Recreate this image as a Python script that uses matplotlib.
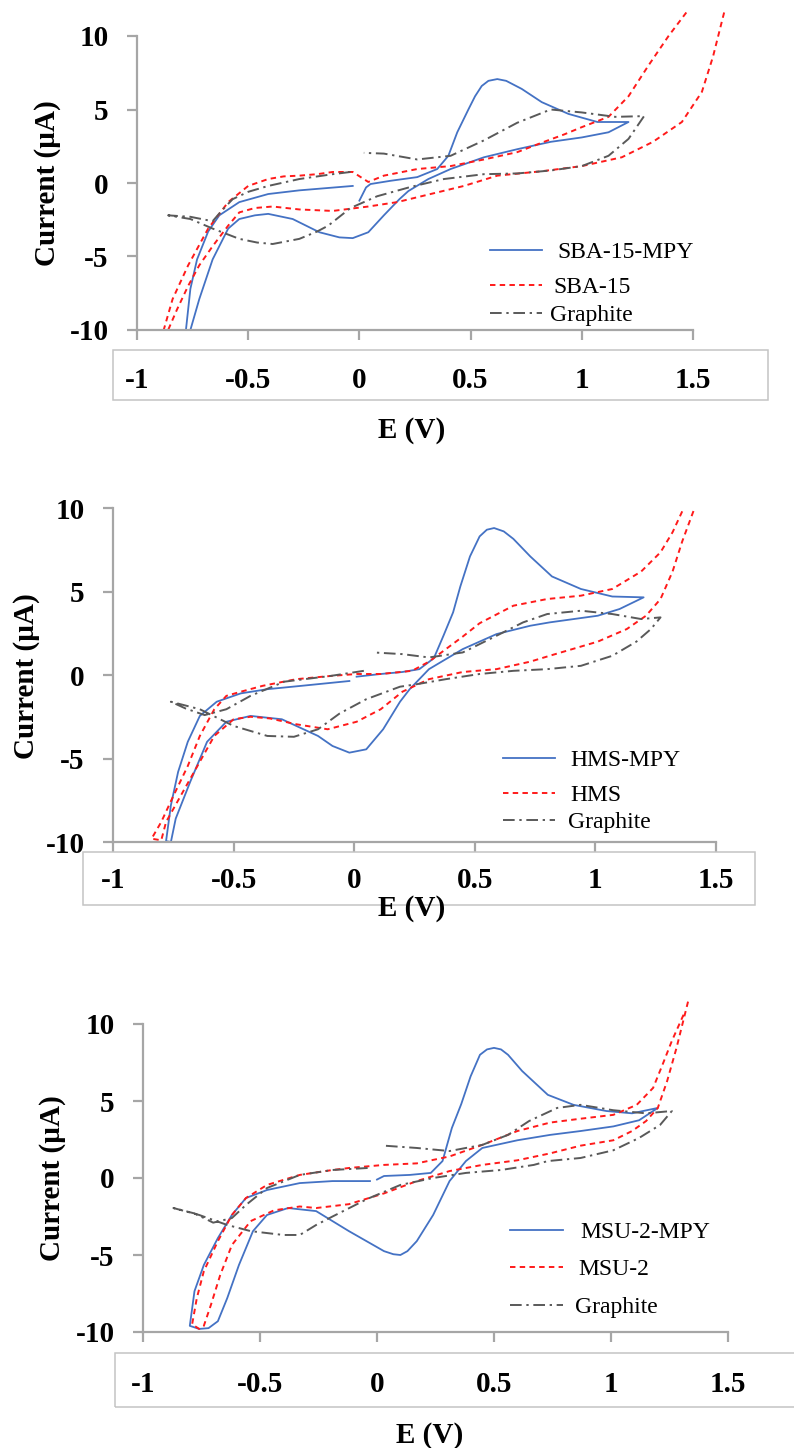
import matplotlib
matplotlib.use("Agg")
import matplotlib.pyplot as plt
from matplotlib.patches import Rectangle
from matplotlib.lines import Line2D
from matplotlib.transforms import blended_transform_factory

plt.rcParams['font.family'] = ['Liberation Serif', 'DejaVu Serif']
plt.rcParams['axes.unicode_minus'] = False

W, H = 794, 1448

# ---- axis ticks / labels ----
x_ticks = [-1, -0.5, 0, 0.5, 1, 1.5]
x_tick_labels = ['-1', '-0.5', '0', '0.5', '1', '1.5']
y_ticks = [-10, -5, 0, 5, 10]
y_tick_labels = ['-10', '-5', '0', '5', '10']

# ---- panel 1: SBA-15 ----
sba_mpy_e = [-0.03, -0.15, -0.27, -0.41, -0.54, -0.63, -0.68, -0.73, -0.76, -0.78,
             -0.76, -0.72, -0.66, -0.59, -0.54, -0.47, -0.41, -0.30, -0.18, -0.09,
             -0.03, 0.04, 0.11, 0.18, 0.22, 0.31, 0.41, 0.56, 0.71, 0.86,
             1.0, 1.12, 1.21, 1.07, 0.94, 0.82, 0.73, 0.66, 0.62, 0.58,
             0.55, 0.52, 0.49, 0.44, 0.40, 0.35, 0.26, 0.14, 0.05, 0.03, 0.0]
sba_mpy_i = [-0.2, -0.35, -0.5, -0.75, -1.3, -2.2, -3.3, -5.2, -7.2, -10,
             -10, -7.9, -5.2, -3.1, -2.45, -2.2, -2.1, -2.45, -3.35, -3.7,
             -3.75, -3.35, -2.2, -1.1, -0.55, 0.27, 0.95, 1.75, 2.3, 2.8,
             3.1, 3.45, 4.15, 4.15, 4.7, 5.5, 6.4, 6.95, 7.07, 6.95,
             6.6, 5.9, 5.0, 3.45, 1.85, 0.95, 0.4, 0.15, -0.07, -0.3, -1.2]

sba_e = [1.64, 1.59, 1.54, 1.45, 1.32, 1.18, 1.0, 0.82, 0.62, 0.47,
         0.32, 0.17, 0.04, -0.12, -0.27, -0.39, -0.47, -0.54, -0.59, -0.66,
         -0.72, -0.77, -0.82, -0.86, -0.88, -0.84, -0.77, -0.68, -0.59, -0.50,
         -0.41, -0.34, -0.27, -0.19, -0.12, -0.03, 0.04, 0.11, 0.26, 0.41,
         0.56, 0.71, 0.83, 0.92, 1.0, 1.12, 1.21, 1.30, 1.39, 1.47]
sba_i = [11.6, 8.6, 6.2, 4.15, 2.8, 1.75, 1.15, 0.8, 0.5, -0.2,
         -0.75, -1.3, -1.6, -1.9, -1.8, -1.6, -1.7, -2.0, -2.9, -4.3,
         -5.6, -7.0, -8.6, -10, -10, -7.9, -5.6, -3.1, -1.3, -0.2,
         0.27, 0.45, 0.5, 0.6, 0.75, 0.75, 0.07, 0.5, 0.95, 1.15,
         1.6, 2.1, 2.8, 3.3, 3.8, 4.5, 5.9, 8.0, 10.0, 11.6]

gr1_e = [-0.04, -0.12, -0.27, -0.41, -0.50, -0.57, -0.62, -0.66, -0.76, -0.86,
         -0.76, -0.66, -0.54, -0.46, -0.39, -0.27, -0.19, -0.14, -0.04, 0.08,
         0.23, 0.38, 0.56, 0.71, 0.86, 1.0, 1.12, 1.21, 1.28, 1.15,
         1.0, 0.86, 0.71, 0.56, 0.41, 0.26, 0.11, 0.02]
gr1_i = [0.75, 0.6, 0.27, -0.2, -0.6, -1.1, -1.9, -2.6, -2.3, -2.2,
         -2.45, -3.1, -3.8, -4.05, -4.15, -3.8, -3.3, -2.9, -1.7, -0.9,
         -0.27, 0.27, 0.6, 0.65, 0.85, 1.15, 1.85, 3.0, 4.55, 4.5,
         4.8, 5.0, 4.1, 2.9, 1.85, 1.6, 2.0, 2.05]

# ---- panel 2: HMS ----
hms_mpy_e = [-0.02, -0.22, -0.36, -0.47, -0.57, -0.64, -0.69, -0.73, -0.76, -0.78,
             -0.76, -0.74, -0.68, -0.61, -0.53, -0.43, -0.30, -0.15, -0.09, -0.02,
             0.05, 0.12, 0.19, 0.23, 0.31, 0.45, 0.59, 0.73, 0.81, 1.01,
             1.10, 1.20, 1.07, 0.94, 0.82, 0.73, 0.66, 0.62, 0.58, 0.55,
             0.52, 0.48, 0.44, 0.41, 0.37, 0.33, 0.27, 0.20, 0.11, 0.01]
hms_mpy_i = [-0.36, -0.65, -0.85, -1.1, -1.6, -2.45, -4.0, -5.8, -7.8, -9.95,
             -10, -8.6, -6.4, -4.0, -2.8, -2.45, -2.65, -3.65, -4.25, -4.65,
             -4.45, -3.25, -1.6, -0.85, 0.35, 1.55, 2.45, 2.95, 3.15, 3.55,
             3.95, 4.65, 4.7, 5.15, 5.9, 7.1, 8.15, 8.6, 8.8, 8.7,
             8.3, 7.1, 5.3, 3.75, 2.35, 1.0, 0.35, 0.18, 0.06, -0.1]

hms_e = [1.36, 1.32, 1.27, 1.19, 1.07, 0.94, 0.80, 0.66, 0.52, 0.45,
         0.38, 0.31, 0.24, 0.11, 0.01, -0.10, -0.24, -0.38, -0.47, -0.53,
         -0.58, -0.64, -0.69, -0.75, -0.80, -0.84, -0.80, -0.78, -0.72, -0.65,
         -0.58, -0.50, -0.43, -0.35, -0.24, -0.11, 0.01, 0.11, 0.20, 0.31,
         0.45, 0.59, 0.73, 0.81, 1.01, 1.13, 1.21, 1.27, 1.32, 1.36, 1.41]
hms_i = [9.8, 8.55, 7.35, 6.2, 5.15, 4.75, 4.55, 4.15, 3.1, 2.3,
         1.55, 0.8, 0.25, 0.06, 0.06, -0.06, -0.25, -0.65, -1.0, -1.25,
         -2.05, -3.65, -5.45, -7.25, -8.8, -9.8, -9.9, -8.8, -7.25, -5.45,
         -3.65, -2.65, -2.5, -2.6, -2.95, -3.25, -2.8, -2.05, -1.0, -0.25,
         0.18, 0.35, 0.8, 1.15, 2.0, 2.75, 3.55, 4.55, 6.2, 8.0, 9.95]

gr2_e = [0.04, -0.10, -0.29, -0.43, -0.53, -0.62, -0.70, -0.76, -0.64, -0.50,
         -0.36, -0.25, -0.15, -0.06, 0.05, 0.19, 0.26, 0.38, 0.52, 0.66,
         0.80, 0.94, 1.07, 1.17, 1.23, 1.27, 1.19, 1.07, 0.94, 0.80,
         0.70, 0.59, 0.45, 0.31, 0.20, 0.08]
gr2_i = [0.25, -0.06, -0.4, -1.25, -2.05, -2.4, -2.0, -1.6, -2.05, -3.05,
         -3.65, -3.7, -3.25, -2.3, -1.45, -0.7, -0.55, -0.25, 0.06, 0.25,
         0.35, 0.55, 1.15, 2.0, 2.75, 3.45, 3.35, 3.65, 3.85, 3.65,
         3.15, 2.35, 1.35, 1.05, 1.25, 1.35]

# ---- panel 3: MSU-2 ----
msu_mpy_e = [-0.03, -0.19, -0.33, -0.47, -0.56, -0.62, -0.68, -0.74, -0.78, -0.80,
             -0.76, -0.72, -0.68, -0.64, -0.59, -0.53, -0.47, -0.38, -0.26, -0.12,
             0.03, 0.07, 0.10, 0.13, 0.17, 0.24, 0.31, 0.38, 0.45, 0.60,
             0.74, 0.87, 1.01, 1.12, 1.20, 1.09, 0.98, 0.84, 0.73, 0.62,
             0.56, 0.53, 0.50, 0.47, 0.44, 0.40, 0.36, 0.32, 0.28, 0.23,
             0.14, 0.03, 0.0]
msu_mpy_i = [-0.2, -0.2, -0.33, -0.78, -1.3, -2.4, -3.9, -5.65, -7.35, -9.6,
             -9.8, -9.75, -9.3, -7.8, -5.65, -3.45, -2.4, -1.95, -2.15, -3.45,
             -4.75, -4.95, -5.0, -4.75, -4.1, -2.4, -0.2, 1.1, 1.95, 2.45,
             2.8, 3.05, 3.35, 3.75, 4.55, 4.2, 4.35, 4.75, 5.4, 6.95,
             8.0, 8.35, 8.45, 8.35, 8.0, 6.6, 4.8, 3.25, 1.1, 0.33,
             0.2, 0.13, -0.1]

msu_e = [1.31, 1.26, 1.22, 1.18, 1.11, 1.01, 0.87, 0.74, 0.60, 0.45,
         0.31, 0.17, 0.03, -0.12, -0.19, -0.33, -0.47, -0.56, -0.62, -0.68,
         -0.74, -0.77, -0.79, -0.76, -0.74, -0.71, -0.67, -0.62, -0.54, -0.44,
         -0.33, -0.26, -0.12, 0.03, 0.17, 0.31, 0.45, 0.60, 0.74, 0.87,
         1.01, 1.09, 1.15, 1.20, 1.24, 1.28, 1.33]
msu_i = [10.6, 8.9, 7.35, 5.85, 4.75, 4.1, 3.85, 3.6, 3.05, 2.15,
         1.4, 0.95, 0.85, 0.65, 0.52, 0.2, -0.45, -1.3, -2.4, -4.1,
         -6.05, -7.8, -9.5, -9.8, -9.6, -8.25, -6.3, -4.35, -2.8, -2.1,
         -1.85, -1.95, -1.7, -1.0, -0.2, 0.45, 0.85, 1.15, 1.6, 2.1,
         2.45, 3.05, 3.7, 4.55, 6.3, 8.45, 11.5]

gr3_e = [-0.04, -0.19, -0.33, -0.47, -0.56, -0.62, -0.70, -0.78, -0.87, -0.76,
         -0.64, -0.54, -0.40, -0.33, -0.26, -0.19, -0.04, 0.10, 0.24, 0.38,
         0.53, 0.67, 0.73, 0.87, 1.01, 1.12, 1.21, 1.26, 1.15, 1.01,
         0.87, 0.77, 0.65, 0.56, 0.45, 0.31, 0.17, 0.03]
gr3_i = [0.65, 0.52, 0.2, -0.65, -1.75, -2.6, -2.9, -2.3, -1.95, -2.4,
         -3.05, -3.45, -3.7, -3.7, -3.05, -2.5, -1.35, -0.45, 0.0, 0.33,
         0.52, 0.85, 1.1, 1.3, 1.8, 2.6, 3.45, 4.35, 4.2, 4.4,
         4.75, 4.55, 3.7, 2.8, 2.15, 1.75, 1.95, 2.1]

BLUE = '#4472c4'
RED = '#ff1a1a'
GREY = '#595959'
AXC = '#a6a6a6'
styles = [dict(color=BLUE, lw=1.3, linestyle='-'),
          dict(color=RED, lw=1.4, dashes=(2.8, 2.2)),
          dict(color=GREY, lw=1.4, dashes=(6, 2.4, 1.2, 2.4))]

# pixel layouts for each panel
panels = [
    dict(curves=[(sba_mpy_e, sba_mpy_i), (sba_e, sba_i), (gr1_e, gr1_i)],
         names=['SBA-15-MPY', 'SBA-15', 'Graphite'],
         ax=(137, 36, 693, 330), box=(113, 350, 768, 400), tick_y=377,
         xlabel=(412, 427), ylabel=(48, 183),
         leg_x=(490, 542), leg_y=(250, 285, 313), leg_tx=(557, 553, 550)),
    dict(curves=[(hms_mpy_e, hms_mpy_i), (hms_e, hms_i), (gr2_e, gr2_i)],
         names=['HMS-MPY', 'HMS', 'Graphite'],
         ax=(113, 508, 716, 842), box=(83, 852, 755, 905), tick_y=878,
         xlabel=(412, 905), ylabel=(27, 676),
         leg_x=(503, 555), leg_y=(758, 793, 820), leg_tx=(570, 570, 568)),
    dict(curves=[(msu_mpy_e, msu_mpy_i), (msu_e, msu_i), (gr3_e, gr3_i)],
         names=['MSU-2-MPY', 'MSU-2', 'Graphite'],
         ax=(143, 1024, 728, 1332), box=(115, 1353, 800, 1407), tick_y=1382,
         xlabel=(430, 1432), ylabel=(52, 1178),
         leg_x=(510, 563), leg_y=(1230, 1267, 1305), leg_tx=(580, 578, 575)),
]

fig = plt.figure(figsize=(W / 100, H / 100), dpi=100)

def fx(px):
    return px / W

def fy(py):
    return 1 - py / H

for p in panels:
    l, t, r, b = p['ax']
    ax = fig.add_axes([fx(l), fy(b), (r - l) / W, (b - t) / H])
    ax.set_xlim(-1, 1.5)
    ax.set_ylim(-10, 10)
    for (e, i), st in zip(p['curves'], styles):
        ax.plot(e, i, clip_on=False, solid_joinstyle='round', **st)

    for s in ['top', 'right']:
        ax.spines[s].set_visible(False)
    for s in ['left', 'bottom']:
        ax.spines[s].set_color(AXC)
        ax.spines[s].set_linewidth(1.6)
    ax.set_xticks(x_ticks)
    ax.set_yticks(y_ticks)
    ax.set_yticklabels(y_tick_labels, fontsize=21, fontweight='bold')
    ax.tick_params(axis='x', direction='out', length=7.5, width=1.6,
                   color=AXC, labelbottom=False)
    ax.tick_params(axis='y', direction='out', length=7.5, width=1.6,
                   color=AXC, pad=13)

    # box holding the x tick labels
    x0, y0, x1, y1 = p['box']
    fig.add_artist(Rectangle((fx(x0), fy(y1)), (x1 - x0) / W, (y1 - y0) / H,
                             transform=fig.transFigure, fill=False,
                             ec='#c4c4c4', lw=1.1))
    tr = blended_transform_factory(ax.transData, fig.transFigure)
    for xt, lab in zip(x_ticks, x_tick_labels):
        ax.text(xt, fy(p['tick_y']), lab, transform=tr, ha='center',
                va='center_baseline', fontsize=21, fontweight='bold',
                clip_on=False)

    fig.text(fx(p['xlabel'][0]), fy(p['xlabel'][1]), 'E (V)', ha='center',
             va='center_baseline', fontsize=21, fontweight='bold')
    fig.text(fx(p['ylabel'][0]), fy(p['ylabel'][1]), 'Current (µA)',
             rotation=90, ha='center', va='center', fontsize=21,
             fontweight='bold')

    # legend
    for name, st, ly, tx in zip(p['names'], styles, p['leg_y'], p['leg_tx']):
        fig.add_artist(Line2D([fx(p['leg_x'][0]), fx(p['leg_x'][1])],
                              [fy(ly), fy(ly)], transform=fig.transFigure,
                              **st))
        fig.text(fx(tx), fy(ly), name, ha='left', va='center_baseline',
                 fontsize=17)

fig.savefig('out.png', dpi=100)
